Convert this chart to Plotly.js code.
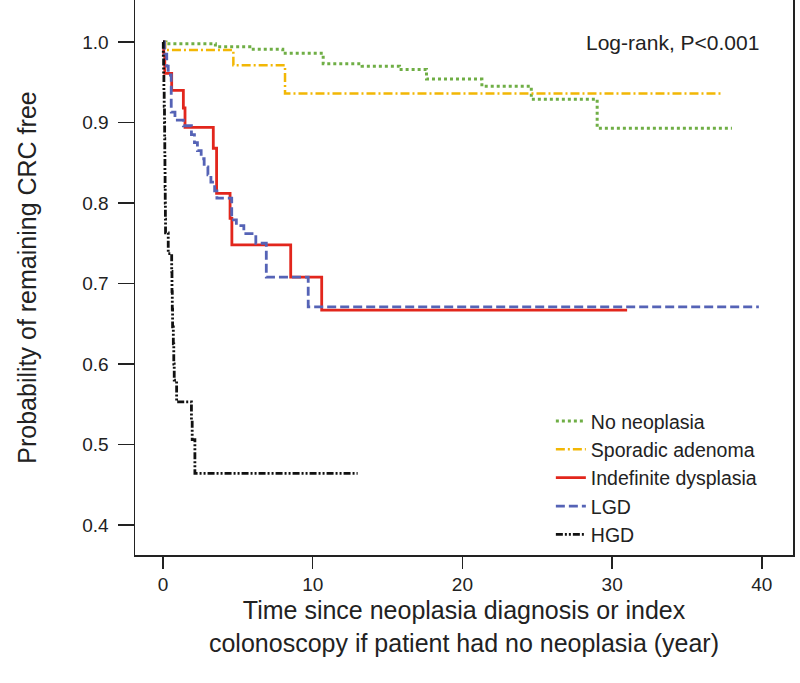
<!DOCTYPE html>
<html>
<head>
<meta charset="utf-8">
<script src="https://cdn.plot.ly/plotly-3.0.1.min.js"></script>
<style>html,body{margin:0;padding:0;background:#fff;}#chart{width:800px;height:683px;}</style>
</head>
<body>
<div id="chart"></div>
<script>
// Kaplan-Meier step data: at time t[i] the survival becomes s[i]
const noNeoTime = [0, 0.2, 3.5, 5.8, 8.0, 10.7, 13.3, 15.8, 17.6, 21.3, 24.6, 29.0, 38.0];
const noNeoSurv = [1.0, 0.998, 0.994, 0.991, 0.986, 0.973, 0.970, 0.966, 0.954, 0.945, 0.929, 0.893, 0.893];

const sporTime = [0, 0.15, 4.7, 8.15, 37.4];
const sporSurv = [1.0, 0.990, 0.971, 0.936, 0.936];

const indefTime = [0, 0.05, 0.12, 0.58, 1.36, 1.47, 3.36, 3.58, 4.48, 4.6, 8.53, 10.6, 31.0];
const indefSurv = [1.0, 0.985, 0.961, 0.940, 0.918, 0.894, 0.868, 0.812, 0.781, 0.748, 0.708, 0.667, 0.667];

const lgdTime = [0, 0.1, 0.25, 0.35, 0.55, 0.8, 1.36, 1.9, 2.1, 2.3, 2.55, 2.75, 3.0, 3.2, 3.45, 3.6, 4.59, 4.9, 5.4, 6.2, 6.9, 9.7, 39.8];
const lgdSurv = [1.0, 0.985, 0.970, 0.959, 0.913, 0.903, 0.896, 0.885, 0.875, 0.865, 0.855, 0.845, 0.835, 0.826, 0.815, 0.806, 0.779, 0.772, 0.762, 0.750, 0.708, 0.671, 0.671];

const hgdTime = [0, 0.02, 0.04, 0.06, 0.08, 0.1, 0.11, 0.12, 0.13, 0.14, 0.15, 0.16, 0.17, 0.35, 0.58, 0.6, 0.62, 0.64, 0.69, 0.72, 0.75, 0.91, 1.9, 1.95, 2.13, 13.0];
const hgdSurv = [1.0, 0.98, 0.96, 0.94, 0.92, 0.90, 0.88, 0.86, 0.84, 0.82, 0.80, 0.78, 0.763, 0.737, 0.715, 0.69, 0.668, 0.646, 0.625, 0.60, 0.58, 0.553, 0.53, 0.506, 0.464, 0.464];

const groupNames = ["No neoplasia", "Sporadic adenoma", "Indefinite dysplasia", "LGD", "HGD"];
const xTicks = [0, 10, 20, 30, 40];
const yTicks = [0.4, 0.5, 0.6, 0.7, 0.8, 0.9, 1.0];
const yTickText = ["0.4", "0.5", "0.6", "0.7", "0.8", "0.9", "1.0"];

const FONT = "Liberation Sans, Arial, Helvetica, sans-serif";

const styles = [
  {color: "#6fae45", dash: "dot", width: 3},
  {color: "#f2b705", dash: "9px,3px,2px,3px", width: 2.5},
  {color: "#e2261c", dash: "solid", width: 2.8},
  {color: "#5563b6", dash: "9px,4px", width: 2.8},
  {color: "#111111", dash: "7px,2px,2px,2px,2px,2px", width: 2.8}
];
const series = [[noNeoTime, noNeoSurv], [sporTime, sporSurv], [indefTime, indefSurv], [lgdTime, lgdSurv], [hgdTime, hgdSurv]];

const traces = series.map((s, i) => ({
  type: "scatter", mode: "lines", x: s[0], y: s[1], name: groupNames[i],
  line: {shape: "hv", color: styles[i].color, dash: styles[i].dash, width: styles[i].width}
}));

const layout = {
  width: 800, height: 683,
  margin: {l: 135, r: 7, t: 0, b: 128},
  paper_bgcolor: "#fff", plot_bgcolor: "#fff",
  font: {family: FONT, color: "#222", size: 19},
  showlegend: true,
  legend: {x: 0.632, y: 0.276, xanchor: "left", yanchor: "top", font: {size: 19.5, family: FONT, color: "#222"}, bgcolor: "rgba(0,0,0,0)", tracegroupgap: 0},
  xaxis: {
    range: [-1.87, 42.08], tickvals: xTicks, ticktext: xTicks.map(String),
    ticks: "outside", ticklen: 12, tickwidth: 1.5, tickcolor: "#222", ticklabelstandoff: 0,
    showline: true, linecolor: "#222", linewidth: 1.5, mirror: false,
    showgrid: false, zeroline: false, tickfont: {size: 19, family: FONT},
    title: {text: "Time since neoplasia diagnosis or index<br>colonoscopy if patient had no neoplasia (year)", font: {size: 25, family: FONT}, standoff: 7}
  },
  yaxis: {
    range: [0.3627, 1.0522], tickvals: yTicks, ticktext: yTickText,
    ticks: "outside", ticklen: 16, tickwidth: 1.5, tickcolor: "#222", ticklabelstandoff: 5,
    showline: true, linecolor: "#222", linewidth: 1.5, mirror: true,
    showgrid: false, zeroline: false, tickfont: {size: 19, family: FONT},
    title: {text: "Probability of remaining CRC free", font: {size: 25, family: FONT}, standoff: 38}
  },
  annotations: [{
    text: "Log-rank, P<0.001", xref: "paper", yref: "y", x: 0.952, y: 1.0,
    xanchor: "right", yanchor: "middle", showarrow: false, font: {size: 21, family: FONT, color: "#222"}
  }]
};

Plotly.newPlot("chart", traces, layout, {displayModeBar: false, staticPlot: true});
</script>
</body>
</html>
